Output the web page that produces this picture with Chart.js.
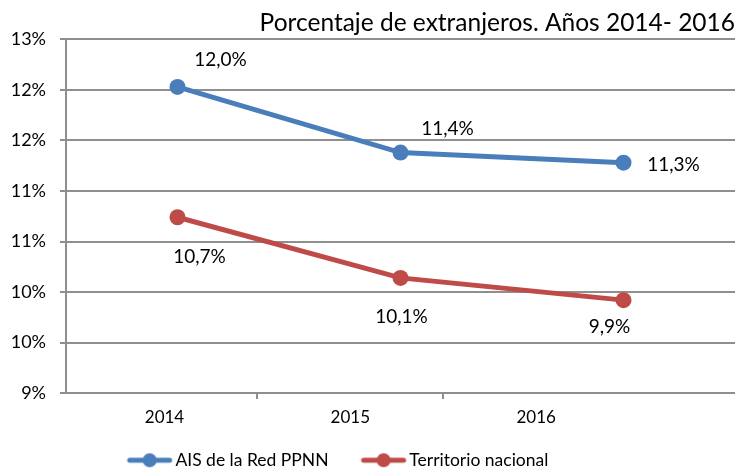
<!DOCTYPE html>
<html>
<head>
<meta charset="utf-8">
<script src="https://cdn.jsdelivr.net/npm/chart.js@4.4.1/dist/chart.umd.min.js"></script>
<style>
  html, body { margin: 0; padding: 0; background: #fff; }
  #wrap { width: 735px; height: 471px; }
</style>
</head>
<body>
<div id="wrap"><canvas id="chart"></canvas></div>
<script>
// data
const years = ['2014', '2015', '2016'];
const aisValues = [12.03, 11.38, 11.28];
const nacionalValues = [10.74, 10.14, 9.92];
const yTicks = [9, 9.5, 10, 10.5, 11, 11.5, 12, 12.5];

const BLUE = '#4a7ebb';
const RED = '#be4b48';
const GRID = '#8f8f8f';
const FONT = 'Lato';

// legend sample: line with a round marker, pushed to the right of its box
function legendMarker(color) {
    const c = document.createElement('canvas');
    c.width = 76; c.height = 16;
    const g = c.getContext('2d');
    g.strokeStyle = color;
    g.lineWidth = 5;
    g.lineCap = 'round';
    g.beginPath(); g.moveTo(32, 8); g.lineTo(72, 8); g.stroke();
    g.fillStyle = color;
    g.beginPath(); g.arc(52, 8, 7, 0, Math.PI * 2); g.fill();
    return c;
}
const markers = [legendMarker(BLUE), legendMarker(RED)];

// per point label nudges, as placed in the original
const labelOffsets = [
    [[43, -27], [47, -24], [50, 2]],
    [[22, 40], [1, 39], [-14, 27]]
];

const dataLabels = {
    id: 'dataLabels',
    afterDatasetsDraw(chart) {
        const ctx = chart.ctx;
        ctx.save();
        ctx.font = '19px ' + FONT;
        ctx.fillStyle = '#000';
        ctx.textAlign = 'center';
        ctx.textBaseline = 'middle';
        chart.data.datasets.forEach((ds, i) => {
            chart.getDatasetMeta(i).data.forEach((pt, j) => {
                const [dx, dy] = labelOffsets[i][j];
                const txt = ds.data[j].toFixed(1).replace('.', ',') + '%';
                ctx.fillText(txt, pt.x + dx, pt.y + dy);
            });
        });
        ctx.restore();
    }
};

// the original legend sits a little left of centre and close to the bottom
const legendShift = {
    id: 'legendShift',
    afterLayout(chart) {
        chart.legend.left -= 41;
        chart.legend.right -= 41;
        chart.legend.top += 6;
        chart.legend.bottom += 6;
    }
};

new Chart(document.getElementById('chart'), {
    type: 'line',
    data: {
        labels: years,
        datasets: [
            {
                label: 'AIS de la Red PPNN',
                data: aisValues,
                borderColor: BLUE,
                backgroundColor: BLUE,
                borderWidth: 5,
                pointRadius: 8,
                pointHoverRadius: 8,
                pointBackgroundColor: BLUE,
                pointBorderWidth: 0,
                tension: 0
            },
            {
                label: 'Territorio nacional',
                data: nacionalValues,
                borderColor: RED,
                backgroundColor: RED,
                borderWidth: 5,
                pointRadius: 8,
                pointHoverRadius: 8,
                pointBackgroundColor: RED,
                pointBorderWidth: 0,
                tension: 0
            }
        ]
    },
    options: {
        responsive: true,
        maintainAspectRatio: false,
        animation: false,
        layout: { autoPadding: false, padding: { left: 0, right: 0, top: 0, bottom: -2 } },
        plugins: {
            title: {
                display: true,
                text: 'Porcentaje de extranjeros. Años 2014- 2016',
                align: 'end',
                color: '#000',
                font: { family: FONT, size: 24.5, weight: 'normal' },
                padding: { top: 8, bottom: 2 }
            },
            legend: {
                position: 'bottom',
                labels: {
                    usePointStyle: true,
                    pointStyleWidth: 62,
                    boxHeight: 16,
                    padding: 10,
                    color: '#000',
                    font: { family: FONT, size: 17.5 },
                    generateLabels(chart) {
                        return chart.data.datasets.map((ds, i) => ({
                            text: ds.label,
                            pointStyle: markers[i],
                            fillStyle: ds.borderColor,
                            strokeStyle: ds.borderColor,
                            lineWidth: 0,
                            hidden: false,
                            datasetIndex: i,
                            fontColor: '#000'
                        }));
                    }
                }
            },
            tooltip: { enabled: false }
        },
        scales: {
            x: {
                type: 'category',
                offset: true,
                grid: { display: false, drawTicks: false, tickLength: 0 },
                border: { display: false },
                ticks: { display: false, padding: 0 }
            },
            xl: {
                type: 'linear',
                position: 'bottom',
                min: -0.53,
                max: 3.07,
                afterBuildTicks(scale) {
                    scale.ticks = [0, 0.5, 1, 1.5, 2].map(v => ({ value: v }));
                },
                grid: {
                    drawOnChartArea: false,
                    tickLength: 6,
                    lineWidth: 2,
                    color: ctx => (ctx.tick && ctx.tick.value % 1 !== 0) ? GRID : 'rgba(0,0,0,0)'
                },
                border: { display: true, color: GRID, width: 2 },
                ticks: {
                    autoSkip: false,
                    maxRotation: 0,
                    padding: 8,
                    color: '#000',
                    font: { family: FONT, size: 17 },
                    callback: v => (v % 1 === 0 ? years[v] : '')
                }
            },
            y: {
                min: yTicks[0],
                max: yTicks[yTicks.length - 1],
                afterBuildTicks(scale) {
                    scale.ticks = yTicks.map(v => ({ value: v }));
                },
                afterFit(scale) { scale.width = 66; },
                grid: { color: GRID, lineWidth: 2, tickLength: 6 },
                border: { display: true, color: GRID, width: 2 },
                ticks: {
                    padding: 14,
                    color: '#000',
                    font: { family: FONT, size: 18 },
                    callback: v => Math.round(v) + '%'
                }
            }
        }
    },
    plugins: [dataLabels, legendShift]
});
</script>
</body>
</html>
